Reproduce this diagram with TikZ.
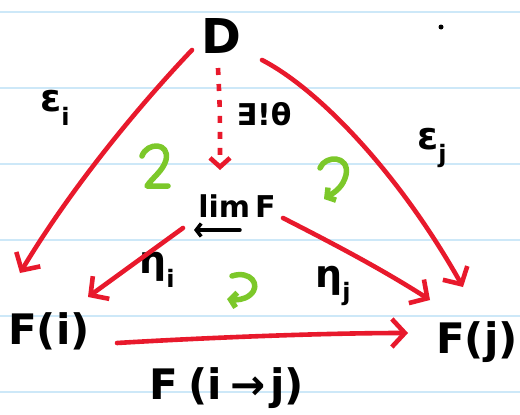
\documentclass[tikz,border=0pt]{standalone}
\usepackage{fontspec}
\setmainfont{DejaVu Sans}
\usetikzlibrary{arrows.meta}
\definecolor{redc}{HTML}{E8192C}
\definecolor{greenc}{HTML}{7CC82A}
\definecolor{rulec}{HTML}{CDE8F8}
\newcommand{\lowsub}[1]{\raisebox{-0.35em}{\fontsize{24}{26}\selectfont #1}}
\tikzset{
  rule/.style={rulec, line width=1.2pt},
  redarr/.style={redc, line width=4.6pt, line cap=round, -{Straight Barb[length=13pt,width=28pt,line width=4.6pt]}},
  reddash/.style={redc, line width=4.6pt, dash pattern=on 7pt off 9pt, -{Straight Barb[length=9pt,width=20pt,line width=4.6pt]}},
  loopg/.style={greenc, line width=5.5pt, line cap=round, line join=round},
  loopga/.style={loopg, -{Straight Barb[length=6pt,width=15pt,line width=5.5pt]}},
  lbl/.style={inner sep=0pt, text=black},
  limarr/.style={black, line width=3.5pt, line cap=round, -{Straight Barb[length=5pt,width=13pt,line width=3.5pt]}},
  big/.style={font=\fontsize{48}{54}\selectfont\bfseries},
  obj/.style={font=\fontsize{42}{48}\selectfont\bfseries},
  mid/.style={font=\fontsize{38}{44}\selectfont\bfseries},
  small/.style={font=\fontsize{30}{34}\selectfont\bfseries},
}
\begin{document}
\begin{tikzpicture}[x=1pt,y=-1pt]
\useasboundingbox (0,0) rectangle (520,415);
\fill[white] (0,0) rectangle (520,415);
\foreach \yy in {12,88,164,240,316,392} \draw[rule] (0,\yy) -- (520,\yy);

% labels / objects
\node[lbl, big] (D) at (221,36) {D};
\node[lbl, obj] (Fi) at (49,331) {F(i)};
\node[lbl, obj] (Fj) at (477,342) {F(j)};
\node[lbl, small] (lim) at (237,206) {lim\,F};
\coordinate (la1) at (240,230);
\coordinate (la2) at (194,230);
\draw[limarr] (la1) -- (la2);
\node[lbl, small] (theta) at (264,114) {∃!θ};
\node[lbl, mid] (ei) at (55,108) {ε\lowsub{i}};
\node[lbl, mid] (ej) at (432,148) {ε\lowsub{j}};
\node[lbl, mid] (ni) at (157,270) {η\lowsub{i}};
\node[lbl, mid] (nj) at (333,286) {η\lowsub{j}};
\node[lbl, obj] (Fij) at (227,388) {F\hspace{10pt}(i\hspace{8pt}→\hspace{5pt}j)};
\fill (441,27) circle (2.5pt);

% connector endpoints
\coordinate (d1) at (192,50);
\coordinate (d2) at (262,60);
\coordinate (d3) at (218,68);
\coordinate (fi1) at (20,273);
\coordinate (fj1) at (463,287);
\coordinate (l1) at (220,170);
\coordinate (li) at (183,228);
\coordinate (lj) at (283,218);
\coordinate (fi2) at (88,297);
\coordinate (fj2) at (430,300);
\coordinate (b1) at (117,343);
\coordinate (b2) at (408,333);

\draw[redarr] (d1) .. controls (135,110) and (70,190) .. (fi1);
\draw[redarr] (d2) .. controls (320,90) and (400,175) .. (fj1);
\draw[reddash] (d3) .. controls (220,110) .. (l1);
\draw[redarr] (li) -- (fi2);
\draw[redarr] (lj) .. controls (330,242) and (380,268) .. (fj2);
\draw[redarr] (b1) .. controls (200,338) and (320,333) .. (b2);

% green commutation marks
\draw[loopg] (142,156) .. controls (147,142) and (170,142) .. (166,160)
  .. controls (163,171) and (152,178) .. (147,186) -- (168,186);
\draw[loopga] (320,168) .. controls (325,155) and (350,155) .. (346,175)
  .. controls (343,187) and (335,192) .. (324,199);
\draw[loopga] (232,276) .. controls (250,270) and (262,285) .. (250,295)
  .. controls (244,300) and (236,300) .. (227,299);
\end{tikzpicture}
\end{document}
